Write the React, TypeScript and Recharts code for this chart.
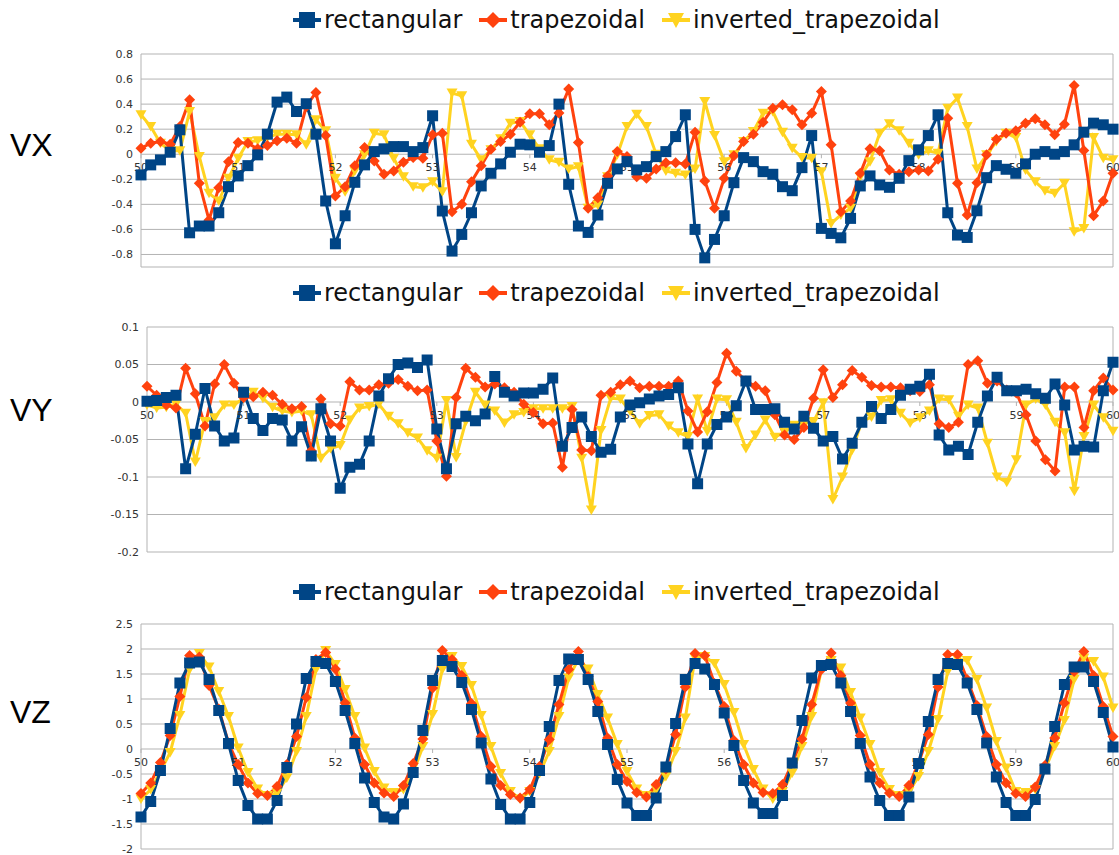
import React from 'react'
import { LineChart, Line, XAxis, YAxis, CartesianGrid, ReferenceLine, ReferenceDot } from 'recharts'

// sample times (s)
const times = [
  50.0, 50.1, 50.2, 50.3, 50.4, 50.5, 50.6, 50.7, 50.8, 50.9,
  51.0, 51.1, 51.2, 51.3, 51.4, 51.5, 51.6, 51.7, 51.8, 51.9,
  52.0, 52.1, 52.2, 52.3, 52.4, 52.5, 52.6, 52.7, 52.8, 52.9,
  53.0, 53.1, 53.2, 53.3, 53.4, 53.5, 53.6, 53.7, 53.8, 53.9,
  54.0, 54.1, 54.2, 54.3, 54.4, 54.5, 54.6, 54.7, 54.8, 54.9,
  55.0, 55.1, 55.2, 55.3, 55.4, 55.5, 55.6, 55.7, 55.8, 55.9,
  56.0, 56.1, 56.2, 56.3, 56.4, 56.5, 56.6, 56.7, 56.8, 56.9,
  57.0, 57.1, 57.2, 57.3, 57.4, 57.5, 57.6, 57.7, 57.8, 57.9,
  58.0, 58.1, 58.2, 58.3, 58.4, 58.5, 58.6, 58.7, 58.8, 58.9,
  59.0, 59.1, 59.2, 59.3, 59.4, 59.5, 59.6, 59.7, 59.8, 59.9,
  60.0,
]
const xTicks = [50, 51, 52, 53, 54, 55, 56, 57, 58, 59, 60]

// VX
const vxRect = [
  -0.165, -0.085, -0.045, 0.016, 0.195, -0.627, -0.573, -0.573, -0.467, -0.259,
  -0.173, -0.091, -0.005, 0.16, 0.416, 0.456, 0.341, 0.403, 0.16, -0.373,
  -0.715, -0.491, -0.224, -0.085, 0.021, 0.043, 0.061, 0.061, 0.021, 0.053,
  0.307, -0.453, -0.773, -0.64, -0.467, -0.253, -0.152, -0.077, 0.016, 0.08,
  0.075, 0.016, 0.069, 0.4, -0.24, -0.573, -0.624, -0.485, -0.232, -0.117,
  -0.059, -0.125, -0.099, -0.019, 0.021, 0.141, 0.315, -0.6, -0.827, -0.68,
  -0.491, -0.227, -0.027, -0.059, -0.139, -0.16, -0.259, -0.291, -0.107, 0.149,
  -0.592, -0.632, -0.667, -0.512, -0.253, -0.173, -0.245, -0.264, -0.192, -0.051,
  0.035, 0.149, 0.315, -0.467, -0.645, -0.664, -0.451, -0.187, -0.091, -0.12,
  -0.152, -0.077, 0.0, 0.021, 0.0, 0.021, 0.075, 0.176, 0.248, 0.235,
  0.2,
]
const vxTrap = [
  0.048, 0.088, 0.101, 0.08, 0.221, 0.435, -0.232, -0.525, -0.267, -0.059,
  0.093, 0.088, 0.043, 0.069, 0.107, 0.128, 0.088, 0.381, 0.493, 0.149,
  -0.333, -0.259, -0.091, 0.053, -0.053, -0.16, -0.133, -0.064, -0.027, -0.032,
  0.155, 0.168, -0.459, -0.4, -0.219, -0.091, 0.04, 0.101, 0.16, 0.256,
  0.323, 0.323, 0.235, 0.33, 0.52, 0.093, -0.432, -0.347, -0.173, 0.021,
  -0.019, -0.179, -0.192, -0.117, -0.067, -0.067, -0.077, 0.176, -0.213, -0.432,
  -0.192, -0.013, 0.101, 0.16, 0.256, 0.368, 0.395, 0.355, 0.235, 0.328,
  0.501, 0.075, -0.459, -0.373, -0.152, 0.043, 0.027, -0.125, -0.16, -0.139,
  -0.125, -0.133, -0.04, 0.288, -0.232, -0.485, -0.227, -0.005, 0.12, 0.168,
  0.187, 0.248, 0.283, 0.235, 0.155, 0.24, 0.549, 0.03, -0.49, -0.373,
  -0.152,
]
const vxInv = [
  0.315, 0.221, 0.088, 0.027, 0.027, 0.341, -0.019, -0.312, -0.373, -0.192,
  -0.032, 0.101, 0.107, 0.133, 0.16, 0.16, 0.155, 0.075, 0.275, 0.187,
  -0.192, -0.299, -0.133, -0.005, 0.168, 0.155, -0.032, -0.179, -0.259, -0.267,
  -0.219, -0.299, 0.488, 0.467, 0.08, -0.045, 0.035, 0.123, 0.248, 0.261,
  0.155, 0.043, -0.045, -0.064, -0.117, -0.099, -0.432, -0.405, -0.179, -0.005,
  0.221, 0.32, 0.221, 0.0, -0.133, -0.152, -0.165, -0.117, 0.421, 0.149,
  -0.059, -0.005, 0.101, 0.181, 0.328, 0.341, 0.176, 0.048, -0.027, -0.032,
  -0.139, -0.552, -0.485, -0.432, -0.179, -0.059, 0.168, 0.243, 0.187, 0.088,
  -0.005, 0.027, 0.008, 0.368, 0.448, 0.221, -0.117, -0.005, 0.101, 0.168,
  0.133, -0.125, -0.219, -0.291, -0.312, -0.232, -0.619, -0.592, 0.133, -0.032,
  -0.045,
]

// VY
const vyRect = [
  0.001, 0.002, 0.006, 0.009, -0.089, -0.043, 0.018, -0.032, -0.052, -0.048,
  0.013, -0.022, -0.038, -0.022, -0.024, -0.052, -0.033, -0.072, -0.009, -0.052,
  -0.115, -0.087, -0.083, -0.052, 0.008, 0.031, 0.05, 0.052, 0.046, 0.056,
  -0.036, -0.089, -0.029, -0.019, -0.025, -0.016, 0.034, 0.013, 0.008, 0.012,
  0.012, 0.017, 0.032, -0.059, -0.034, -0.02, -0.046, -0.067, -0.063, -0.02,
  -0.004, -0.001, 0.004, 0.008, 0.01, 0.019, -0.056, -0.109, -0.056, -0.03,
  -0.02, -0.005, 0.028, -0.01, -0.01, -0.009, -0.027, -0.036, -0.019, -0.035,
  -0.052, -0.046, -0.076, -0.055, -0.027, -0.006, -0.022, -0.01, 0.009, 0.017,
  0.021, 0.037, -0.044, -0.064, -0.059, -0.07, -0.027, 0.008, 0.033, 0.015,
  0.015, 0.017, 0.011, 0.005, 0.024, -0.004, -0.064, -0.059, -0.06, 0.015,
  0.053,
]
const vyTrap = [
  0.021, 0.009, -0.004, -0.008, 0.045, 0.011, -0.032, 0.024, 0.05, 0.025,
  0.006, 0.007, 0.013, 0.009, -0.003, -0.009, -0.006, -0.065, 0.004, -0.029,
  -0.032, 0.027, 0.016, 0.016, 0.023, 0.025, 0.03, 0.021, 0.015, 0.016,
  -0.052, -0.099, 0.006, 0.045, 0.033, 0.02, 0.024, 0.019, 0.013, -0.003,
  -0.014, -0.029, -0.028, -0.087, -0.01, -0.064, -0.065, 0.009, 0.013, 0.023,
  0.028, 0.019, 0.021, 0.021, 0.021, 0.028, -0.012, -0.04, -0.013, 0.026,
  0.065, 0.041, 0.028, 0.021, 0.015, -0.017, -0.044, -0.05, -0.034, 0.005,
  0.043, 0.006, 0.023, 0.042, 0.033, 0.022, 0.02, 0.02, 0.019, 0.015,
  0.014, 0.023, -0.029, -0.034, -0.027, 0.05, 0.055, 0.025, 0.028, 0.016,
  0.012, -0.017, -0.052, -0.077, -0.092, 0.02, 0.02, -0.034, 0.015, 0.032,
  0.016,
]
const vyInv = [
  -0.004, -0.008, -0.007, -0.003, -0.015, -0.08, -0.026, -0.021, -0.004, -0.004,
  0.005, 0.013, 0.005, -0.007, -0.012, -0.014, -0.012, -0.017, -0.075, -0.062,
  -0.058, -0.024, -0.008, -0.006, -0.003, -0.019, -0.029, -0.041, -0.048, -0.065,
  -0.075, 0.002, -0.074, -0.026, 0.013, -0.004, -0.012, -0.028, -0.017, -0.014,
  -0.009, -0.009, -0.009, -0.009, -0.006, -0.075, -0.144, -0.038, 0.005, 0.004,
  -0.012, -0.029, -0.018, -0.017, -0.032, -0.041, -0.046, 0.004, -0.039, 0.004,
  0.003, -0.027, -0.062, -0.044, -0.024, -0.047, -0.04, -0.031, -0.029, -0.026,
  -0.001, -0.13, -0.1, -0.064, -0.026, -0.02, 0.002, 0.003, -0.015, -0.028,
  -0.021, -0.012, 0.004, 0.003, -0.019, -0.004, -0.008, -0.055, -0.1, -0.107,
  -0.077, -0.004, 0.004, -0.004, -0.027, -0.041, -0.119, -0.046, -0.004, -0.021,
  -0.039,
]

// VZ
const vzRect = [
  -1.36, -1.05, -0.43, 0.41, 1.32, 1.72, 1.74, 1.39, 0.77, 0.11,
  -0.63, -1.13, -1.4, -1.4, -1.03, -0.37, 0.5, 1.41, 1.75, 1.71,
  1.35, 0.77, 0.11, -0.58, -1.07, -1.36, -1.4, -1.1, -0.47, 0.37,
  1.37, 1.77, 1.65, 1.33, 0.79, 0.12, -0.6, -1.11, -1.4, -1.4,
  -1.07, -0.43, 0.45, 1.37, 1.8, 1.79, 1.39, 0.75, 0.09, -0.61,
  -1.08, -1.33, -1.33, -0.98, -0.36, 0.51, 1.39, 1.71, 1.6, 1.29,
  0.72, 0.07, -0.63, -1.08, -1.29, -1.29, -0.93, -0.28, 0.57, 1.42,
  1.67, 1.69, 1.32, 0.75, 0.11, -0.56, -1.03, -1.33, -1.33, -0.96,
  -0.29, 0.55, 1.39, 1.71, 1.69, 1.32, 0.79, 0.12, -0.56, -1.07,
  -1.33, -1.33, -1.01, -0.4, 0.45, 1.29, 1.64, 1.64, 1.35, 0.73,
  0.04,
]
const vzTrap = [
  -0.89, -0.68, -0.27, 0.27, 1.05, 1.87, 1.84, 1.27, 0.8, 0.12,
  -0.31, -0.68, -0.89, -0.93, -0.75, -0.31, 0.25, 1.03, 1.79, 1.93,
  1.6, 0.92, 0.22, -0.31, -0.68, -0.88, -0.95, -0.73, -0.29, 0.2,
  1.22, 1.97, 1.79, 1.47, 0.91, 0.25, -0.35, -0.73, -0.91, -0.98,
  -0.81, -0.35, 0.19, 0.89, 1.59, 1.95, 1.45, 0.95, 0.22, -0.31,
  -0.65, -0.87, -0.96, -0.71, -0.4, 0.29, 1.24, 1.91, 1.87, 1.31,
  0.85, 0.17, -0.31, -0.68, -0.87, -0.89, -0.71, -0.28, 0.2, 0.89,
  1.59, 1.92, 1.47, 0.92, 0.27, -0.31, -0.68, -0.88, -0.95, -0.73,
  -0.28, 0.29, 1.24, 1.89, 1.89, 1.39, 0.87, 0.25, -0.31, -0.68,
  -0.89, -0.95, -0.76, -0.33, 0.22, 0.92, 1.55, 1.95, 1.47, 0.85,
  0.25,
]
const vzInv = [
  -1.0, -0.81, -0.45, -0.07, 0.67, 1.59, 1.91, 1.64, 1.15, 0.65,
  0.02, -0.47, -0.8, -0.93, -0.88, -0.58, -0.05, 0.65, 1.59, 1.97,
  1.69, 1.19, 0.65, 0.02, -0.45, -0.78, -0.87, -0.81, -0.48, 0.05,
  0.69, 1.59, 1.85, 1.65, 1.27, 0.67, 0.05, -0.49, -0.85, -1.0,
  -0.85, -0.49, -0.05, 0.65, 1.42, 1.8, 1.6, 1.09, 0.62, 0.09,
  -0.45, -0.8, -0.93, -0.81, -0.55, -0.05, 0.62, 1.82, 1.85, 1.71,
  1.29, 0.73, 0.09, -0.41, -0.8, -1.0, -0.85, -0.48, 0.05, 0.65,
  1.59, 1.77, 1.62, 1.13, 0.62, 0.09, -0.47, -0.81, -0.93, -0.85,
  -0.55, -0.05, 0.59, 1.55, 1.8, 1.77, 1.39, 0.82, 0.15, -0.38,
  -0.85, -0.87, -0.81, -0.41, 0.05, 0.57, 1.39, 1.82, 1.75, 1.44,
  0.82,
]

const BLUE = '#004586'
const ORANGE = '#ff420e'
const YELLOW = '#ffd320'
const GRID = '#b3b3b3'
const W = 1119

const squareDot = (p: any) => (
  <rect key={`s-${p.index}`} x={p.cx - 5.5} y={p.cy - 5.5} width={11} height={11} fill={BLUE} />
)
const diamondDot = (p: any) => (
  <path key={`d-${p.index}`} d={`M${p.cx},${p.cy - 5.5}L${p.cx + 5.5},${p.cy}L${p.cx},${p.cy + 5.5}L${p.cx - 5.5},${p.cy}Z`} fill={ORANGE} />
)
const triangleDot = (p: any) => (
  <path key={`t-${p.index}`} d={`M${p.cx - 5.5},${p.cy - 4.5}L${p.cx + 5.5},${p.cy - 4.5}L${p.cx},${p.cy + 5}Z`} fill={YELLOW} />
)

function LegendRow({ top }: { top: number }) {
  const item = (label: string, color: string, marker: React.ReactNode) => (
    <div style={{ display: 'flex', alignItems: 'center', marginRight: 17 }}>
      <svg width={28} height={20} style={{ marginRight: 3 }}>
        <line x1={0} x2={28} y1={10} y2={10} stroke={color} strokeWidth={4} />
        {marker}
      </svg>
      <span>{label}</span>
    </div>
  )
  return (
    <div
      style={{
        position: 'absolute', top, left: 293, height: 28, display: 'flex', alignItems: 'center',
        fontFamily: 'DejaVu Sans', fontSize: 24, color: '#111', whiteSpace: 'nowrap',
      }}
    >
      {item('rectangular', BLUE, <rect x={6} y={2} width={16} height={16} fill={BLUE} />)}
      {item('trapezoidal', ORANGE, <path d="M14,2L22,10L14,18L6,10Z" fill={ORANGE} />)}
      {item('inverted_trapezoidal', YELLOW, <path d="M6,3L22,3L14,18Z" fill={YELLOW} />)}
    </div>
  )
}

interface PanelProps {
  title: string
  top: number
  height: number
  legendTop: number
  titleTop: number
  rect: number[]
  trap: number[]
  inv: number[]
  domain: [number, number]
  yTicks: number[]
  plotTop: number
  plotBottom: number
  plotLeft: number
  yWidth: number
}

function Panel(p: PanelProps) {
  const data = times.map((t, i) => ({ t, rect: p.rect[i], trap: p.trap[i], inv: p.inv[i] }))
  const plotRight = 1113
  return (
    <>
      <LegendRow top={p.legendTop} />
      <div
        style={{
          position: 'absolute', left: 10, top: p.titleTop, fontFamily: 'Liberation Sans',
          fontSize: 32, color: '#000', lineHeight: '36px',
        }}
      >
        {p.title}
      </div>
      <div style={{ position: 'absolute', left: 0, top: p.top }}>
        <LineChart
          width={W}
          height={p.height}
          data={data}
          margin={{
            top: p.plotTop - p.top,
            bottom: p.top + p.height - p.plotBottom,
            left: p.plotLeft - p.yWidth,
            right: W - plotRight,
          }}
        >
          <CartesianGrid vertical={false} stroke={GRID} />
          <XAxis type="number" dataKey="t" domain={[50, 60]} hide />
          <YAxis
            type="number"
            domain={p.domain}
            ticks={p.yTicks}
            allowDataOverflow
            width={p.yWidth}
            tickSize={0}
            tickMargin={8}
            tickLine={false}
            axisLine={{ stroke: GRID }}
            tick={{ fontSize: 11, fill: '#333', fontFamily: 'DejaVu Sans' }}
          />
          <ReferenceLine x={60} stroke={GRID} />
          {xTicks.map((t) => (
            <ReferenceDot
              key={t}
              x={t}
              y={0}
              r={0}
              shape={(s: any) => (
                <g>
                  <line x1={s.cx} x2={s.cx} y1={s.cy} y2={s.cy + 4} stroke={GRID} />
                  <text x={s.cx} y={s.cy + 17} textAnchor="middle" fontSize={11} fill="#333" fontFamily="DejaVu Sans">
                    {t}
                  </text>
                </g>
              )}
            />
          ))}
          <Line type="linear" dataKey="inv" stroke={YELLOW} strokeWidth={3} dot={triangleDot} activeDot={false} isAnimationActive={false} />
          <Line type="linear" dataKey="trap" stroke={ORANGE} strokeWidth={3} dot={diamondDot} activeDot={false} isAnimationActive={false} />
          <Line type="linear" dataKey="rect" stroke={BLUE} strokeWidth={3} dot={squareDot} activeDot={false} isAnimationActive={false} />
        </LineChart>
      </div>
    </>
  )
}

export default function App() {
  return (
    <div style={{ position: 'absolute', left: 0, top: 0, width: W, height: 855, background: '#fff', overflow: 'hidden' }}>
      <Panel
        title="VX" top={0} height={280} legendTop={6} titleTop={127}
        rect={vxRect} trap={vxTrap} inv={vxInv}
        domain={[-0.9, 0.8]} yTicks={[-0.8, -0.6, -0.4, -0.2, 0, 0.2, 0.4, 0.6, 0.8]}
        plotTop={54} plotBottom={267} plotLeft={141} yWidth={50}
      />
      <Panel
        title="VY" top={280} height={285} legendTop={279} titleTop={392}
        rect={vyRect} trap={vyTrap} inv={vyInv}
        domain={[-0.2, 0.1]} yTicks={[-0.2, -0.15, -0.1, -0.05, 0, 0.05, 0.1]}
        plotTop={327} plotBottom={552} plotLeft={147} yWidth={50}
      />
      <Panel
        title="VZ" top={565} height={290} legendTop={578} titleTop={694}
        rect={vzRect} trap={vzTrap} inv={vzInv}
        domain={[-2, 2.5]} yTicks={[-2, -1.5, -1, -0.5, 0, 0.5, 1, 1.5, 2, 2.5]}
        plotTop={624} plotBottom={849} plotLeft={141} yWidth={50}
      />
    </div>
  )
}
